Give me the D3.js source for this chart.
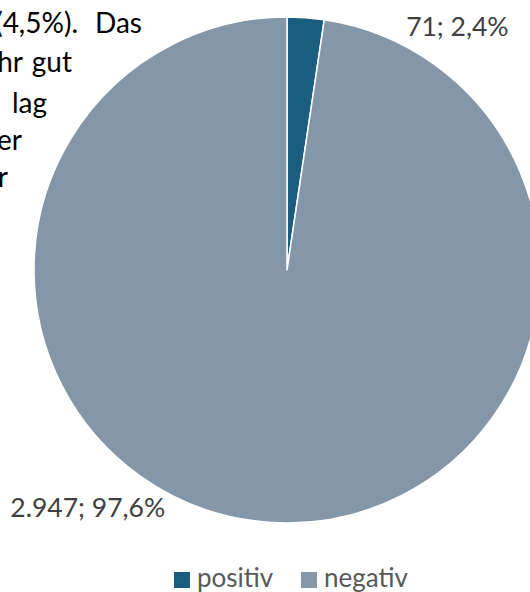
<!DOCTYPE html>
<html>
<head>
<meta charset="utf-8">
<script src="https://cdn.jsdelivr.net/npm/d3@7"></script>
<style>
  html, body { margin: 0; padding: 0; background: #fff; overflow: hidden; }
  svg { display: block; font-family: Lato, "Open Sans", sans-serif; }
</style>
</head>
<body>
<div id="chart"></div>
<script>
// data
const categories = ['positiv', 'negativ'];
const counts = [71, 2947];
const shares = ['2,4%', '97,6%'];
const labelTexts = ['71; 2,4%', '2.947; 97,6%'];
const colors = ['#1a5d7f', '#8497a9'];

// fragments of the (justified) document text that sits behind the chart
const bgWords = ['(4,5%).', 'Das', 'hr', 'gut', 'lag', 'er', 'r'];
const bgWordEnds = [78, 142, 23, 72, 47, 22, 8];
const bgWordLine = [0, 0, 1, 1, 2, 3, 4];
const bgBaselines = [33, 72, 113, 150, 187];

const width = 530;
const height = 592;
const cx = 287;
const cy = 270;
const radius = 253;

const svg = d3.select('#chart').append('svg')
  .attr('width', width)
  .attr('height', height)
  .attr('viewBox', `0 0 ${width} ${height}`);

// background document text
svg.append('g').attr('class', 'doc-text')
  .selectAll('text')
  .data(bgWords)
  .join('text')
  .attr('x', (d, i) => bgWordEnds[i])
  .attr('y', (d, i) => bgBaselines[bgWordLine[i]])
  .attr('text-anchor', 'end')
  .attr('fill', '#000')
  .style('font-size', '28px')
  .text(d => d);

const pie = d3.pie().sort(null).value(d => d);
const arcs = pie(counts);
const arc = d3.arc().innerRadius(0).outerRadius(radius);

const g = svg.append('g').attr('transform', `translate(${cx},${cy})`);

g.selectAll('path')
  .data(arcs)
  .join('path')
  .attr('d', arc)
  .attr('fill', (d, i) => colors[i])
  .attr('stroke', '#fff')
  .attr('stroke-width', 1.5)
  .attr('stroke-linejoin', 'round');

// data labels, placed outside the pie like the original
const labelAngle = [35, 220];   // degrees clockwise from 12 o'clock
const labelDist = [297, 310];
const labelArc = (i) => {
  const a = labelAngle[i] * Math.PI / 180;
  return [Math.sin(a) * labelDist[i], -Math.cos(a) * labelDist[i]];
};

g.selectAll('text.label')
  .data(arcs)
  .join('text')
  .attr('class', 'label')
  .attr('x', (d, i) => labelArc(i)[0])
  .attr('y', (d, i) => labelArc(i)[1])
  .attr('dy', '0.35em')
  .attr('text-anchor', 'middle')
  .attr('fill', '#404040')
  .style('font-size', '26.5px')
  .text((d, i) => labelTexts[i]);

// legend
const legend = svg.append('g').attr('class', 'legend')
  .attr('transform', 'translate(174,572)');
const legendX = d3.scaleOrdinal().domain(categories).range([0, 127]);

const item = legend.selectAll('g')
  .data(categories)
  .join('g')
  .attr('transform', d => `translate(${legendX(d)},0)`);

item.append('rect')
  .attr('width', 16)
  .attr('height', 16)
  .attr('fill', (d, i) => colors[i]);

item.append('text')
  .attr('x', 23)
  .attr('y', 15)
  .attr('fill', '#595959')
  .style('font-size', '26px')
  .text(d => d);
</script>
</body>
</html>
